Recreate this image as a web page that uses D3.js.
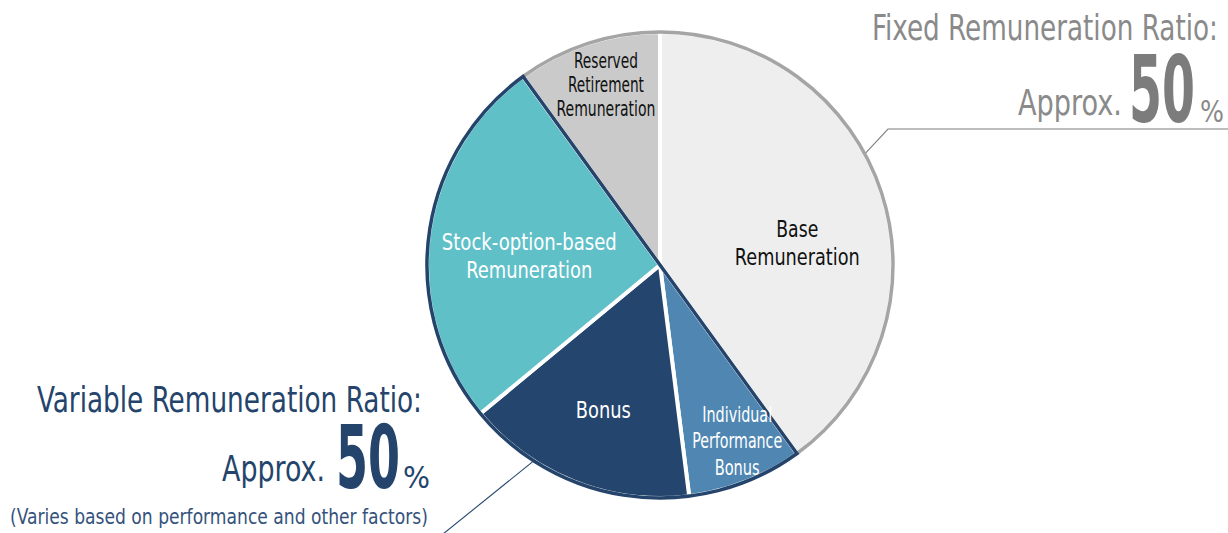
<!DOCTYPE html>
<html>
<head>
<meta charset="utf-8">
<script src="https://cdn.jsdelivr.net/npm/d3@7"></script>
<style>
  html, body { margin: 0; padding: 0; background: #ffffff; }
  svg { display: block; }
  text { font-family: "DejaVu Sans Condensed", "Liberation Sans Narrow", "Open Sans", sans-serif; }
</style>
</head>
<body>
<svg id="chart" width="1228" height="533"></svg>
<script>
// Remuneration mix (percent of total), clockwise from 12 o'clock
const categories = [
  "Base Remuneration",
  "Individual Performance Bonus",
  "Bonus",
  "Stock-option-based Remuneration",
  "Reserved Retirement Remuneration"
];
const shares = [40, 8, 16, 26, 10];
const groups = ["fixed", "variable", "variable", "variable", "fixed"];
const sliceLabelLines = [
  ["Base", "Remuneration"],
  ["Individual", "Performance", "Bonus"],
  ["Bonus"],
  ["Stock-option-based", "Remuneration"],
  ["Reserved", "Retirement", "Remuneration"]
];
const fixedRatioTitle = "Fixed Remuneration Ratio:";
const variableRatioTitle = "Variable Remuneration Ratio:";
const ratioPrefix = "Approx.";
const fixedRatioValue = 50;
const variableRatioValue = 50;
const variableNote = "(Varies based on performance and other factors)";

const svg = d3.select("#chart");
const cx = 660, cy = 265, R = 233;

const colour = d3.scaleOrdinal()
  .domain(categories)
  .range(["#eeeeee", "#4f87b2", "#24466e", "#5fc0c8", "#c9cac9"]);
const labelColour = d3.scaleOrdinal()
  .domain(categories)
  .range(["#111111", "#ffffff", "#ffffff", "#ffffff", "#111111"]);

const pie = d3.pie().sort(null).value(d => d.value).startAngle(0).endAngle(2 * Math.PI);
const data = categories.map((c, i) => ({ name: c, value: shares[i], group: groups[i], lines: sliceLabelLines[i] }));
const arcs = pie(data);

const arc = d3.arc().innerRadius(0).outerRadius(R);
const g = svg.append("g").attr("transform", `translate(${cx},${cy})`);

// slices with white separators
g.selectAll("path.slice")
  .data(arcs)
  .join("path")
  .attr("class", "slice")
  .attr("d", arc)
  .attr("fill", d => colour(d.data.name))
  .attr("stroke", "#ffffff")
  .attr("stroke-width", 4)
  .attr("stroke-linejoin", "round");

const varArcs = arcs.filter(d => d.data.group === "variable");
const varStart = d3.min(varArcs, d => d.startAngle);
const varEnd = d3.max(varArcs, d => d.endAngle);

// fixed share: only the rim is outlined in grey
const rim = d3.arc().innerRadius(R).outerRadius(R);
arcs.filter(d => d.data.group === "fixed").forEach(d => {
  g.append("path")
    .attr("d", rim({ startAngle: d.startAngle, endAngle: d.endAngle }))
    .attr("fill", "none")
    .attr("stroke", "#a5a5a5")
    .attr("stroke-width", 3.5);
});

// variable share: whole wedge outlined in navy
g.append("path")
  .attr("d", arc({ startAngle: varStart, endAngle: varEnd }))
  .attr("fill", "none")
  .attr("stroke", "#24446b")
  .attr("stroke-width", 3.5)
  .attr("stroke-linejoin", "miter");

// text squeezed horizontally to a given width (condensed face)
function fitText(sel, x, y, str, size, width, fill, opts) {
  opts = opts || {};
  const t = sel.append("text")
    .attr("font-size", size)
    .attr("font-weight", opts.weight || "normal")
    .attr("fill", fill)
    .attr("text-anchor", opts.anchor || "start")
    .text(str);
  const natural = t.node().getComputedTextLength();
  const sx = width / natural;
  t.attr("transform", `translate(${x},${y}) scale(${sx},1)`);
  return t;
}

// slice labels: [angle (deg, clockwise from top), radius, font size, line height, widths]
const labelLayout = [
  { ang: 81, rad: 139, fs: 22.5, lh: 28, widths: [42, 125] },
  { ang: 156.3, rad: 192, fs: 21, lh: 26.5, widths: [70, 90, 45] },
  { ang: 201.3, rad: 156, fs: 22.5, lh: 26, widths: [55] },
  { ang: 273.8, rad: 131, fs: 22.5, lh: 28, widths: [175, 126] },
  { ang: 343.3, rad: 188, fs: 21, lh: 24, widths: [64, 76, 99] }
];

arcs.forEach((d, i) => {
  const L = labelLayout[i];
  const a = L.ang * Math.PI / 180;
  const x = L.rad * Math.sin(a);
  const y = -L.rad * Math.cos(a);
  const n = d.data.lines.length;
  d.data.lines.forEach((line, k) => {
    fitText(g, x, y - (n - 1) * L.lh / 2 + k * L.lh + 0.36 * L.fs, line, L.fs, L.widths[k],
      labelColour(d.data.name), { anchor: "middle" });
  });
});

// pointer lines from the ratio captions to the pie rim
function rimPoint(deg) {
  const a = deg * Math.PI / 180;
  return [cx + R * Math.sin(a), cy - R * Math.cos(a)];
}
const fixedTip = rimPoint(61.5);
svg.append("path")
  .attr("d", d3.line()([[1228, 129], [888, 129], [fixedTip[0] + 1, fixedTip[1] - 1]]))
  .attr("fill", "none")
  .attr("stroke", "#7d7d7d")
  .attr("stroke-width", 1.1);

const varTip = rimPoint(213);
svg.append("path")
  .attr("d", d3.line()([[443, 534], [varTip[0], varTip[1] + 1]]))
  .attr("fill", "none")
  .attr("stroke", "#24446b")
  .attr("stroke-width", 1.1);

// fixed ratio caption
const grey = "#8a8a8a";
fitText(svg, 872, 40, fixedRatioTitle, 35, 346, grey);
fitText(svg, 1018, 115, ratioPrefix, 35, 104, grey);
fitText(svg, 1129, 122, String(fixedRatioValue), 92, 66, "#7c7c7c", { weight: "bold" });
fitText(svg, 1200, 122, "%", 30, 24, grey);

// variable ratio caption
const navy = "#24446b";
fitText(svg, 37, 412, variableRatioTitle, 35, 385, navy);
fitText(svg, 222, 481, ratioPrefix, 35, 103, navy);
fitText(svg, 336, 488, String(variableRatioValue), 87, 64, navy, { weight: "bold" });
fitText(svg, 403, 488, "%", 30, 27, navy);
fitText(svg, 10, 524, variableNote, 21, 418, "#34527c");
</script>
</body>
</html>
